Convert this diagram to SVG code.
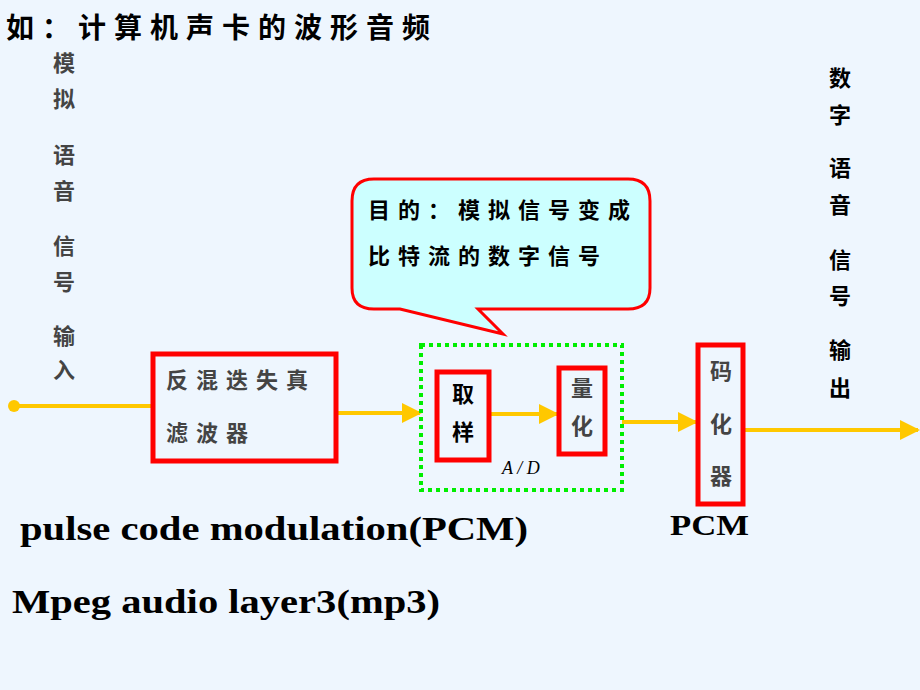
<svg xmlns="http://www.w3.org/2000/svg" width="920" height="690" viewBox="0 0 920 690">
<defs>
<style>
.cn{font-family:"Noto Sans CJK SC","Noto Sans",sans-serif;font-weight:bold}
.g{fill:#444444}
.k{fill:#000000}
.box{fill:none;stroke:#FF0000;stroke-width:5}
.ln{stroke:#FFC800;stroke-width:4;fill:none}
.en{font-family:"Liberation Serif",serif;font-weight:bold;fill:#000}
</style>
<marker id="ah" viewBox="0 0 10 10" refX="9" refY="5" markerWidth="5" markerHeight="5" markerUnits="strokeWidth" orient="auto">
<path d="M0,0 L10,5 L0,10 z" fill="#FFC800"/>
</marker>
</defs>
<rect width="920" height="690" fill="#EEF6FE"/>
<text class="cn k" x="6" y="38" font-size="28" letter-spacing="8">如：计算机声卡的波形音频</text>
<g id="input-label" class="cn g" font-size="22" text-anchor="middle">
<text x="64" y="71">模</text><text x="64" y="107">拟</text>
<text x="64" y="163">语</text><text x="64" y="199">音</text>
<text x="64" y="254">信</text><text x="64" y="290">号</text>
<text x="64" y="344">输</text><text x="64" y="378">入</text>
</g>
<g id="output-label" class="cn k" font-size="22" text-anchor="middle">
<text x="840" y="86">数</text><text x="840" y="123">字</text>
<text x="840" y="176">语</text><text x="840" y="213">音</text>
<text x="840" y="268">信</text><text x="840" y="304">号</text>
<text x="840" y="358">输</text><text x="840" y="396">出</text>
</g>
<g id="callout">
<path d="M374,179 H628 Q650,179 650,201 V288 Q650,309 628,309 H478 L503,334 L400,309 H374 Q352,309 352,288 V201 Q352,179 374,179 Z" fill="#CCFFFF" stroke="#FF0000" stroke-width="3"/>
<text class="cn k" x="368" y="218" font-size="22" letter-spacing="8">目的：模拟信号变成</text>
<text class="cn k" x="368" y="264" font-size="22" letter-spacing="8">比特流的数字信号</text>
</g>
<g id="connectors">
<circle cx="14" cy="406" r="6" fill="#FFC800"/>
<line class="ln" x1="14" y1="406" x2="152" y2="406"/>
<line class="ln" x1="338" y1="413" x2="420" y2="413" marker-end="url(#ah)"/>
<line class="ln" x1="491" y1="414" x2="557" y2="414" marker-end="url(#ah)"/>
<line class="ln" x1="622" y1="422" x2="696" y2="422" marker-end="url(#ah)"/>
<line class="ln" x1="745" y1="430" x2="918" y2="430" marker-end="url(#ah)"/>
</g>
<g id="ad">
<rect x="421" y="345" width="201" height="145" fill="none" stroke="#00EE00" stroke-width="4" stroke-dasharray="4 4"/>
<text x="502" y="474" font-family="Liberation Serif,serif" font-style="italic" font-size="18" fill="#000">A / D</text>
</g>
<g id="filter">
<rect class="box" x="153" y="354" width="183" height="107"/>
<text class="cn g" x="166" y="388" font-size="22" letter-spacing="8">反混迭失真</text>
<text class="cn g" x="166" y="441" font-size="22" letter-spacing="8">滤波器</text>
</g>
<g id="sample">
<rect class="box" x="437" y="372" width="52" height="88"/>
<text class="cn k" x="463" y="402" font-size="22" text-anchor="middle">取</text>
<text class="cn k" x="463" y="440" font-size="22" text-anchor="middle">样</text>
</g>
<g id="quant">
<rect class="box" x="559" y="368" width="46" height="86"/>
<text class="cn g" x="582" y="396" font-size="22" text-anchor="middle">量</text>
<text class="cn g" x="582" y="434" font-size="22" text-anchor="middle">化</text>
</g>
<g id="encoder">
<rect class="box" x="698" y="345" width="45" height="159"/>
<text class="cn g" x="721" y="379" font-size="22" text-anchor="middle">码</text>
<text class="cn g" x="721" y="432" font-size="22" text-anchor="middle">化</text>
<text class="cn g" x="721" y="484" font-size="22" text-anchor="middle">器</text>
</g>
<text class="en" x="670" y="535" font-size="30" textLength="79" lengthAdjust="spacingAndGlyphs">PCM</text>
<text class="en" x="20" y="540" font-size="33" textLength="508" lengthAdjust="spacingAndGlyphs">pulse code modulation(PCM)</text>
<text class="en" x="12" y="613" font-size="33" textLength="428" lengthAdjust="spacingAndGlyphs">Mpeg audio layer3(mp3)</text>
</svg>
